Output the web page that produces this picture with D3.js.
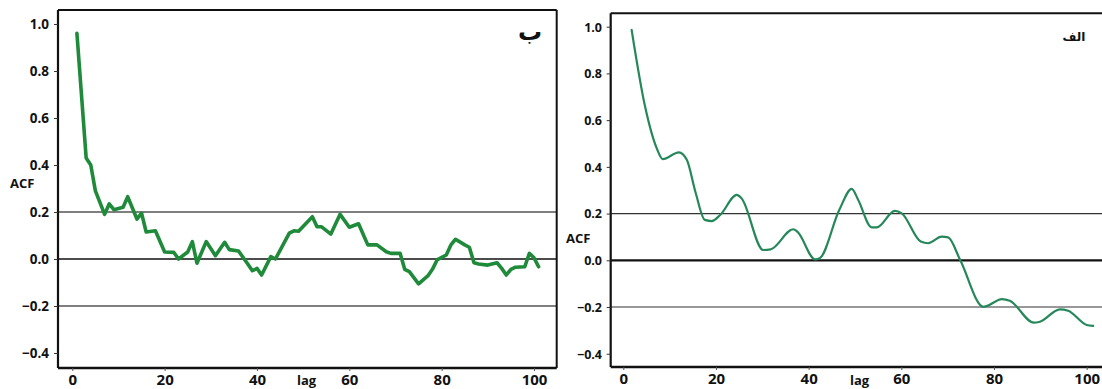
<!DOCTYPE html>
<html><head><meta charset="utf-8">
<script src="https://cdn.jsdelivr.net/npm/d3@7"></script>
<style>
html,body{margin:0;padding:0;background:#fff;}
svg{display:block;font-family:"Open Sans","Noto Sans",sans-serif;}
</style></head>
<body>
<svg id="chart" width="1102" height="389"></svg>
<script>
// Panel "ب" (left)
const lagsB = [1,3,4,5,7,8,9,11,12,14,15,16,18,20,22,23,25,26,27,29,31,33,34,36,38,39,40,41,43,44,47,48,49,52,53,54,56,58,60,62,64,66,68,69,71,72,73,75,77,78,79,81,82,83,85,86,87,88,90,92,93,94,95,96,98,99,100,101];
const acfB  = [0.96,0.43,0.40,0.29,0.19,0.235,0.21,0.22,0.265,0.17,0.195,0.115,0.12,0.03,0.028,0.0,0.03,0.074,-0.018,0.074,0.014,0.071,0.04,0.034,-0.021,-0.05,-0.04,-0.068,0.01,0.0,0.11,0.12,0.118,0.18,0.137,0.137,0.106,0.19,0.135,0.15,0.06,0.06,0.031,0.024,0.024,-0.044,-0.054,-0.106,-0.072,-0.044,-0.004,0.017,0.06,0.084,0.06,0.05,-0.016,-0.021,-0.026,-0.016,-0.04,-0.068,-0.044,-0.035,-0.033,0.024,0.005,-0.033];
// Panel "الف" (right)
const lagsA = [1.8,4.7,7.2,8.5,12,13.7,15.6,17.6,19.1,20.9,24.5,25.5,30.2,31.8,36.7,37.6,41.4,42.4,46.6,49.3,50.7,53.6,54.7,58.6,60.1,64.2,65.8,68.7,70.1,72.7,77.7,78.4,81.7,83.4,88.6,89.9,94.2,96,100,101.4];
const acfA  = [0.986,0.658,0.48,0.433,0.462,0.43,0.29,0.173,0.168,0.194,0.28,0.266,0.044,0.047,0.133,0.122,0.004,0.009,0.215,0.306,0.258,0.141,0.141,0.212,0.201,0.08,0.073,0.101,0.098,0.001,-0.199,-0.196,-0.166,-0.173,-0.267,-0.263,-0.21,-0.216,-0.277,-0.281];

const xTicks = [0,20,40,60,80,100];
const yTicks = [-0.4,-0.2,0.0,0.2,0.4,0.6,0.8,1.0];
const refLines = [0.2,0.0,-0.2];

const svg = d3.select("#chart");

const panels = [
  {lags:lagsB, acf:acfB, title:"ب", left:58, right:556.7, top:10, bottom:368,
   x0:72.3, x100:534, y0:259, y1:24, color:"#1f8a3a", width:3.6, curve:d3.curveLinear,
   yFont:13.5, xFont:15, tickRight:49, acfPos:[10,188], lagPos:[297,385],
   titlePos:[530,40], titleFont:24, rightBorder:true, zeroW:1.6, refW:1.5, refC:"#555"},
  {lags:lagsA, acf:acfA, title:"الف", left:610.7, right:1102, top:13.3, bottom:367,
   x0:623.3, x100:1086.7, y0:260.3, y1:26.7, color:"#25875a", width:2.2, curve:d3.curveMonotoneX,
   yFont:12.5, xFont:15, tickRight:602, acfPos:[566,243], lagPos:[850,385],
   titlePos:[1074,41], titleFont:12, rightBorder:false, zeroW:2.2, refW:1.1, refC:"#333"}
];

panels.forEach(p => {
  const x = d3.scaleLinear().domain([0,100]).range([p.x0, p.x100]);
  const y = d3.scaleLinear().domain([0,1]).range([p.y0, p.y1]);
  const g = svg.append("g");

  refLines.forEach(v => {
    g.append("line").attr("x1", p.left).attr("x2", p.right)
      .attr("y1", y(v)).attr("y2", y(v))
      .attr("stroke", v === 0 ? "#111" : p.refC)
      .attr("stroke-width", v === 0 ? p.zeroW : p.refW);
  });

  g.append("line").attr("x1", p.left).attr("x2", p.right).attr("y1", p.top).attr("y2", p.top)
    .attr("stroke", "#111").attr("stroke-width", 2);
  if (p.rightBorder) {
    g.append("line").attr("x1", p.right).attr("x2", p.right).attr("y1", p.top).attr("y2", p.bottom)
      .attr("stroke", "#111").attr("stroke-width", 2);
  }

  const yAxis = d3.axisLeft(y).tickValues(yTicks).tickFormat(d3.format(".1f")).tickSize(4).tickSizeOuter(0);
  const ya = g.append("g").attr("transform", `translate(${p.left},0)`).call(yAxis);
  ya.select(".domain").attr("d", `M0,${p.top}V${p.bottom}`).attr("stroke", "#111").attr("stroke-width", 2.2);
  ya.selectAll(".tick line").attr("stroke", "#333");
  ya.selectAll(".tick text").attr("x", p.tickRight - p.left).attr("dy", "0.35em")
    .attr("fill", "#111").style("font-size", p.yFont + "px").style("font-weight", 700)
    .style("font-family", "'Open Sans', sans-serif");

  const xAxis = d3.axisBottom(x).tickValues(xTicks).tickFormat(d3.format("d")).tickSize(3).tickSizeOuter(0);
  const xa = g.append("g").attr("transform", `translate(0,${p.bottom})`).call(xAxis);
  xa.select(".domain").attr("d", `M${p.left},0H${p.right}`).attr("stroke", "#111").attr("stroke-width", 2.4);
  xa.selectAll(".tick line").attr("stroke", "#555");
  xa.selectAll(".tick text").attr("y", 6).attr("dy", "0.72em")
    .attr("fill", "#111").style("font-size", p.xFont + "px").style("font-weight", 700)
    .style("font-family", "'Open Sans', sans-serif");

  const line = d3.line().x((d,i) => x(p.lags[i])).y(d => y(d)).curve(p.curve);
  g.append("path").datum(p.acf).attr("d", line).attr("fill", "none")
    .attr("stroke", p.color).attr("stroke-width", p.width)
    .attr("stroke-linejoin", "round").attr("stroke-linecap", "round");

  g.append("text").attr("x", p.acfPos[0]).attr("y", p.acfPos[1]).text("ACF")
    .attr("fill", "#111").style("font-size", "13px").style("font-weight", 700);
  g.append("text").attr("x", p.lagPos[0]).attr("y", p.lagPos[1]).text("lag")
    .attr("fill", "#111").style("font-size", "13px").style("font-weight", 700);
  g.append("text").attr("x", p.titlePos[0]).attr("y", p.titlePos[1]).text(p.title)
    .attr("text-anchor", "middle")
    .attr("fill", "#111").style("font-size", p.titleFont + "px").style("font-weight", 700)
    .style("font-family", "'DejaVu Sans', sans-serif");
});
</script>
</body></html>
